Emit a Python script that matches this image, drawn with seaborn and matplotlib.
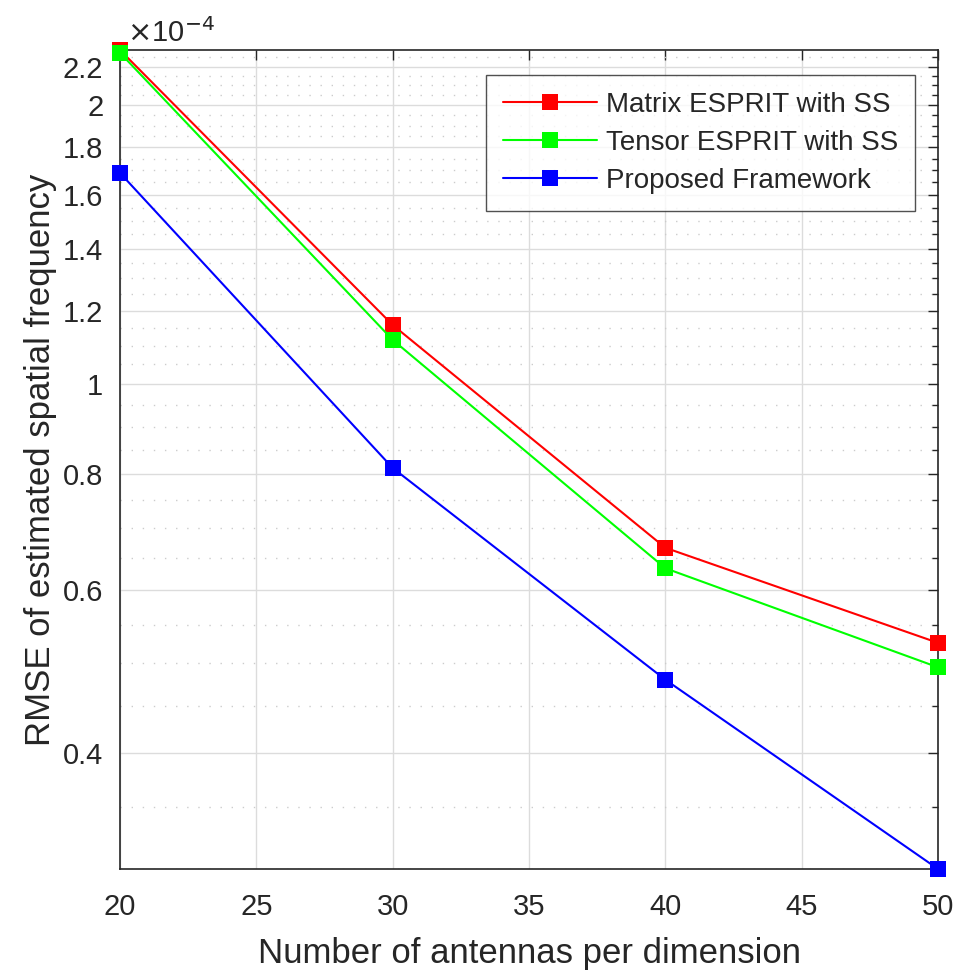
import numpy as np
import pandas as pd
import seaborn as sns
import matplotlib
matplotlib.use("Agg")
import matplotlib.pyplot as plt
from matplotlib.ticker import FixedLocator, FuncFormatter, NullFormatter

# data (RMSE values)
antennas = [20, 30, 40, 50]
matrix_esprit = [2.292e-4, 1.158e-4, 0.666e-4, 0.526e-4]
tensor_esprit = [2.276e-4, 1.116e-4, 0.633e-4, 0.495e-4]
proposed = [1.689e-4, 0.812e-4, 0.480e-4, 0.300e-4]
series_names = ["Matrix ESPRIT with SS", "Tensor ESPRIT with SS", "Proposed Framework"]
series_colors = ["#ff0000", "#00ff00", "#0000ff"]
ytick_vals = [0.4, 0.6, 0.8, 1, 1.2, 1.4, 1.6, 1.8, 2, 2.2]

sns.set_style("white")
plt.rcParams['font.family'] = ['Liberation Sans', 'DejaVu Sans']

fig = plt.figure(figsize=(9.59, 9.74), dpi=100)
ax = fig.add_axes([120 / 959, 1 - 869 / 974, (938 - 120) / 959, (869 - 50) / 974])

#building a long table for seaborn
frames = []
for name, vals in zip(series_names, [matrix_esprit, tensor_esprit, proposed]):
    frames.append(pd.DataFrame({"N": antennas, "RMSE": vals, "method": name}))
df = pd.concat(frames, ignore_index=True)

for name, color in zip(series_names, series_colors):
    sub = df[df["method"] == name]
    sns.lineplot(data=sub, x="N", y="RMSE", ax=ax, color=color, marker="s",
                 markersize=12, markeredgewidth=0, linewidth=1.5, label=name,
                 clip_on=False, zorder=3)

ax.set_yscale("log")
all_vals = matrix_esprit + tensor_esprit + proposed
ax.set_ylim(min(all_vals), max(all_vals))
ax.set_xlim(20, 50)

#ticks and grid, matlab style
ax.set_xticks([20, 25, 30, 35, 40, 45, 50])
ax.yaxis.set_major_locator(FixedLocator([v * 1e-4 for v in ytick_vals]))
ax.yaxis.set_major_formatter(FuncFormatter(lambda v, p: f"{v / 1e-4:g}"))
minor_vals = [round(0.05 * k, 2) for k in range(6, 47)]
ax.yaxis.set_minor_locator(FixedLocator([v * 1e-4 for v in minor_vals if round(v / 0.2, 6) % 1 != 0 and v != 1]))
ax.yaxis.set_minor_formatter(NullFormatter())
ax.tick_params(axis="both", which="both", direction="in", top=True, right=True,
               labelsize=21, colors="#262626", length=7, width=1)
ax.tick_params(axis="both", which="minor", length=4)
ax.tick_params(axis="x", pad=17)
ax.tick_params(axis="y", pad=12)
ax.grid(True, which="major", color="#dcdcdc", linewidth=1, linestyle="-")
ax.grid(True, which="minor", axis="y", color="#cccccc", linewidth=1, linestyle=(0, (1, 7)))
ax.set_axisbelow(True)
for s in ax.spines.values():
    s.set_color("#262626")
    s.set_linewidth(1.2)

ax.set_xlabel("Number of antennas per dimension", fontsize=25, color="#262626", labelpad=12)
ax.set_ylabel("RMSE of estimated spatial frequency", fontsize=25, color="#262626", labelpad=4)
ax.text(0.008, 1.003, r"$\times$10$^{-4}$", transform=ax.transAxes, fontsize=21,
        color="#262626", ha="left", va="bottom")

leg = ax.legend(loc="upper right", bbox_to_anchor=(0.972, 0.9695), borderaxespad=0,
                fontsize=20, frameon=True, fancybox=False, edgecolor="#262626",
                handlelength=3.4, handletextpad=0.3, borderpad=0.62, labelspacing=0.43)
leg.get_frame().set_linewidth(1)

fig.savefig("out.png", dpi=100)
